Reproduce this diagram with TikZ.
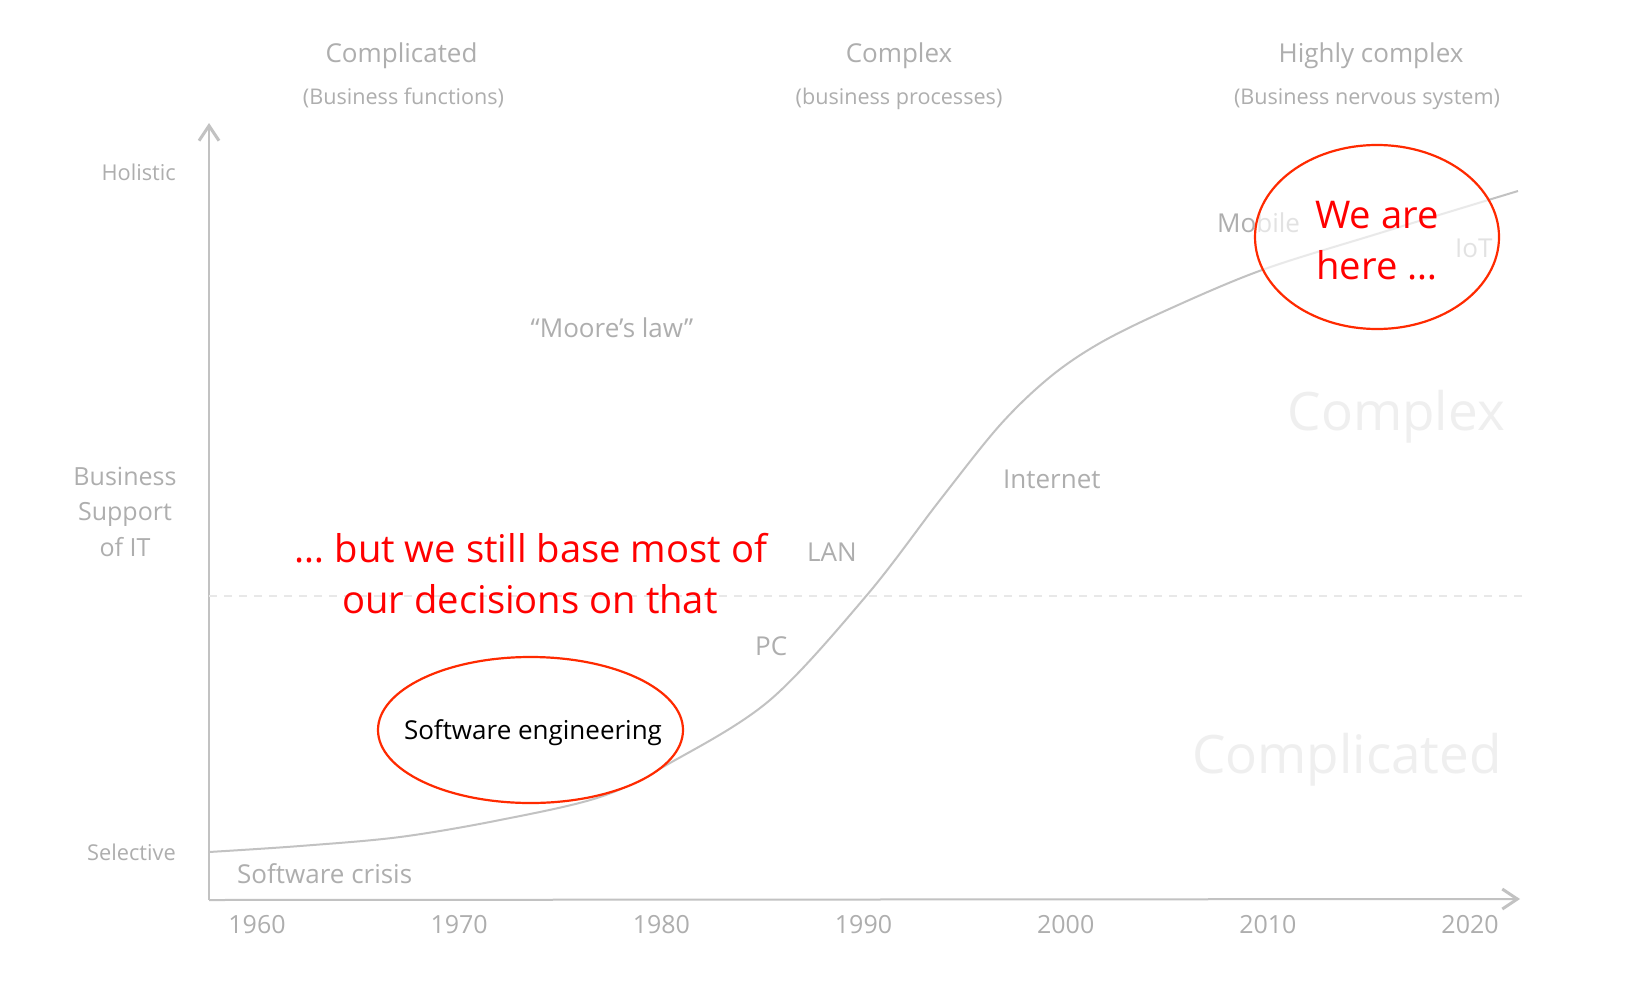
\documentclass[tikz,border=0pt]{standalone}
\usepackage{fontspec}
\setmainfont{Open Sans}
\usetikzlibrary{shapes.geometric,arrows.meta}
\definecolor{txtgray}{HTML}{AEAEAE}
\definecolor{axgray}{HTML}{C2C2C2}
\definecolor{dashgray}{HTML}{E8E8E8}
\definecolor{ghost}{HTML}{EFEFEF}
\definecolor{hired}{HTML}{FF0000}
\definecolor{ellred}{HTML}{FF2A00}
\begin{document}
\begin{tikzpicture}[x=1pt,y=-1pt,
  lbl/.style={text=txtgray,font=\fontsize{26}{31}\selectfont,inner sep=0pt},
  head/.style={text=txtgray,font=\fontsize{26}{31}\selectfont,inner sep=0pt,anchor=base},
  subhead/.style={text=txtgray,font=\fontsize{21.6}{25}\selectfont,inner sep=0pt,anchor=base},
  axlbl/.style={text=txtgray,font=\fontsize{21.8}{26}\selectfont,inner sep=0pt,anchor=base east},
  year/.style={text=txtgray,font=\fontsize{25}{30}\selectfont,inner sep=0pt,anchor=base},
  ghosttxt/.style={text=ghost,font=\fontsize{53}{60}\selectfont,inner sep=0pt,anchor=base east},
  redtxt/.style={text=hired,font=\fontsize{38.2}{51}\selectfont,inner sep=0pt},
  axis/.style={draw=axgray,line width=2pt,-{Straight Barb[length=15pt,width=20pt,line width=3pt]}},
  curve/.style={draw=axgray,line width=2pt},
  midline/.style={draw=dashgray,line width=1.5pt,dash pattern=on 8pt off 7pt},
  bubble/.style={draw=ellred,line width=2.2pt,ellipse,inner sep=0pt}
]
\fill[white] (0,0) rectangle (1640,998);
\useasboundingbox (0,0) rectangle (1640,998);

% axes
\coordinate (O) at (209,900);
\coordinate (ytop) at (209,123);
\coordinate (xend) at (1520,899);
\draw[axis] (O) -- (ytop);
\draw[axis] (O) -- (xend);

% dashed mid line
\coordinate (dl) at (209,596);
\coordinate (dr) at (1524,596);
\draw[midline] (dl) -- (dr);

% ghost labels
\node[ghosttxt] (gcx) at (1505,430) {Complex};
\node[ghosttxt] (gcd) at (1502,773) {Complicated};

% headings
\node[head] (h1) at (401.5,63) {Complicated};
\node[subhead] (s1) at (403.5,104) {(Business functions)};
\node[head] (h2) at (899,63) {Complex};
\node[subhead] (s2) at (899,104) {(business processes)};
\node[head] (h3) at (1371,63) {Highly complex};
\node[subhead] (s3) at (1367,104) {(Business nervous system)};

% y axis labels
\node[axlbl] (hol) at (176,180) {Holistic};
\node[axlbl] (sel) at (176,860) {Selective};
\node[text=txtgray,font=\fontsize{25}{35.5}\selectfont,inner sep=0pt,align=center,anchor=base] (bs) at (125,556) {Business\\Support\\of IT};

% years
\foreach \yr [count=\i from 0] in {1960,1970,1980,1990,2000,2010,2020}
  \node[year] (y\yr) at ({257+202.17*\i},933) {\yr};

% S-curve
\draw[curve] plot[smooth,tension=0.55] coordinates {(209,852) (300,846) (400,837) (500,820) (600,797) (670,763) (770,700) (867,595) (940,500) (1000,425) (1050,377) (1100,343) (1167,310) (1262,270) (1380,233) (1518,191)};

% grey labels
\node[lbl,anchor=base west] (crisis) at (237,883) {Software crisis};
\node[lbl,anchor=base] (moore) at (612,337) {“Moore’s law”};
\node[lbl,anchor=base west] (inet) at (1003,488) {Internet};
\node[lbl,anchor=base west] (lan) at (807,561) {LAN};
\node[lbl,anchor=base west] (pc) at (755,655) {PC};
\node[lbl,anchor=base west] (mob) at (1217,232) {Mobile};
\node[lbl,anchor=base west] (iot) at (1455,257) {IoT};

% red message
\node[redtxt,anchor=base] (msg1) at (531,562) {… but we still base most of};
\node[redtxt,anchor=base] (msg2) at (530,613) {our decisions on that};

% ellipses
\node[bubble,fill=white,minimum width=305pt,minimum height=146pt] (se) at (530.5,730) {};
\node[inner sep=0pt,anchor=base,font=\fontsize{26}{31}\selectfont,text=black] (setxt) at (533,739) {Software engineering};
\node[bubble,fill=white,fill opacity=0.65,minimum width=244pt,minimum height=184pt] (here) at (1377,237) {};
\node[redtxt,anchor=base] (here1) at (1377,228) {We are};
\node[redtxt,anchor=base] (here2) at (1377,279) {here …};
\end{tikzpicture}
\end{document}
